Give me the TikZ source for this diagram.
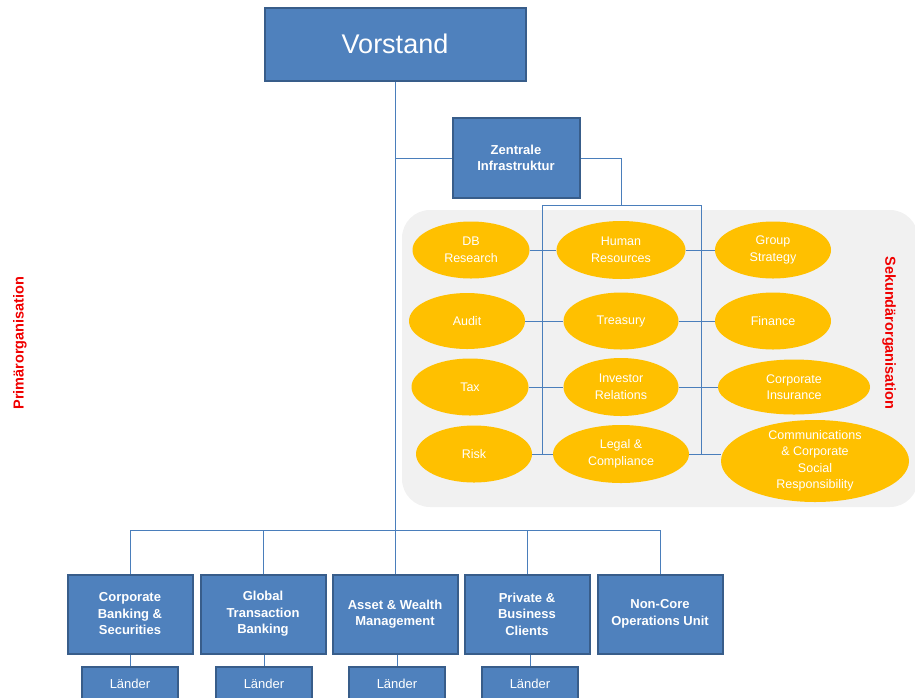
\documentclass[tikz,border=0pt]{standalone}
\usepackage{fontspec}
\setmainfont{Liberation Sans}
\usetikzlibrary{shapes.geometric}

\definecolor{boxblue}{HTML}{4F81BD}
\definecolor{boxedge}{HTML}{385D8A}
\definecolor{ovalgold}{HTML}{FFC000}
\definecolor{linkblue}{HTML}{4A7EBB}
\definecolor{panelgray}{HTML}{F1F1F1}
\definecolor{labelred}{HTML}{F00000}

\begin{document}
\begin{tikzpicture}[x=1pt,y=-1pt,
    unit/.style={draw=boxedge, line width=2pt, fill=boxblue, text=white, align=center,
      inner sep=0pt, font=\bfseries\fontsize{13}{16.5}\selectfont},
    division/.style={unit, minimum width=125pt, minimum height=79pt},
    laender/.style={unit, font=\fontsize{13}{16}\selectfont, minimum width=96pt, minimum height=34pt},
    oval/.style={ellipse, fill=ovalgold, text=white, align=center, inner sep=0pt,
      font=\fontsize{12.5}{16.5}\selectfont},
    link/.style={draw=linkblue, line width=0.9pt},
    sidelabel/.style={text=labelred, font=\bfseries\fontsize{14.5}{16}\selectfont}]
  \useasboundingbox (0,0) rectangle (915,697);
  \clip (0,0) rectangle (915,697);

  % panel of the secondary organisation
  \fill[panelgray, rounded corners=28pt] (402,210) rectangle (918,507);

  \node[unit, minimum width=261pt, minimum height=73pt, font=\fontsize{27}{30}\selectfont]
    (vorstand) at (395,44) {Vorstand};
  \node[unit, minimum width=127pt, minimum height=80pt] (zentral) at (516,158) {Zentrale\\Infrastruktur};

  \coordinate (zbus) at (621,205);
  \coordinate (lbus) at (542,205);
  \coordinate (rbus) at (701,205);
  \coordinate (pbus) at (395,530);

  \node[oval, minimum width=117pt, minimum height=57pt] (dbr) at (471,250) {DB\\Research};
  \node[oval, minimum width=116pt, minimum height=56pt] (audit) at (467,321) {Audit};
  \node[oval, minimum width=117pt, minimum height=57pt] (tax) at (470,387) {Tax};
  \node[oval, minimum width=116pt, minimum height=57pt] (risk) at (474,454) {Risk};

  \node[oval, minimum width=129pt, minimum height=58pt] (hr) at (621,250) {Human\\Resources};
  \node[oval, minimum width=115pt, minimum height=57pt] (treasury) at (621,321) {Treasury};
  \node[oval, minimum width=115pt, minimum height=58pt] (ir) at (621,387) {Investor\\Relations};
  \node[oval, minimum width=136pt, minimum height=58pt] (legal) at (621,454) {Legal \&\\Compliance};

  \node[oval, minimum width=116pt, minimum height=57pt] (strategy) at (773,250) {Group\\Strategy};
  \node[oval, minimum width=116pt, minimum height=57pt] (finance) at (773,321) {Finance};
  \node[oval, minimum width=152pt, minimum height=55pt] (insurance) at (794,387) {Corporate\\Insurance};
  \node[oval, minimum width=188pt, minimum height=82pt, inner ysep=-8pt] (comms) at (815,461)
    {Communications\\\& Corporate\\Social\\Responsibility};

  \node[division] (cbs) at (130,614) {Corporate\\Banking \&\\Securities};
  \node[division] (gtb) at (263,614) {Global\\Transaction\\Banking};
  \node[division] (awm) at (395,614) {Asset \& Wealth\\Management};
  \node[division] (pbc) at (527,614) {Private \&\\Business\\Clients};
  \node[division] (ncou) at (660,614) {Non-Core\\Operations Unit};

  \node[laender] (l-cbs) at (130,684) {Länder};
  \node[laender] (l-gtb) at (264,684) {Länder};
  \node[laender] (l-awm) at (397,684) {Länder};
  \node[laender] (l-pbc) at (530,684) {Länder};

  \node[sidelabel, rotate=90] (prim) at (20,343) {Primärorganisation};
  \node[sidelabel, rotate=-90] (sek) at (889,333) {Sekundärorganisation};

  % connectors
  \draw[link] (vorstand.south) -- (pbus);
  \draw[link] (vorstand.south |- zentral.west) -- (zentral.west);
  \draw[link] (zentral.east) -| (zbus);
  \draw[link] (lbus) -- (rbus);
  \draw[link] (lbus) -- (lbus |- risk.east);
  \draw[link] (rbus) -- (rbus |- legal.east);
  \draw[link] (dbr.east) -- (hr.west);
  \draw[link] (audit.east) -- (treasury.west);
  \draw[link] (tax.east) -- (ir.west);
  \draw[link] (risk.east) -- (legal.west);
  \draw[link] (hr.east) -- (strategy.west);
  \draw[link] (treasury.east) -- (finance.west);
  \draw[link] (ir.east) -- (insurance.west);
  \draw[link] (legal.east) -- (legal.east -| comms.west);

  \draw[link] (cbs.north |- pbus) -- (ncou.north |- pbus);
  \draw[link] (cbs.north |- pbus) -- (cbs.north);
  \draw[link] (gtb.north |- pbus) -- (gtb.north);
  \draw[link] (pbus) -- (awm.north);
  \draw[link] (pbc.north |- pbus) -- (pbc.north);
  \draw[link] (ncou.north |- pbus) -- (ncou.north);

  \draw[link] (l-cbs.north) -- (l-cbs.north |- cbs.south);
  \draw[link] (l-gtb.north) -- (l-gtb.north |- gtb.south);
  \draw[link] (l-awm.north) -- (l-awm.north |- awm.south);
  \draw[link] (l-pbc.north) -- (l-pbc.north |- pbc.south);
\end{tikzpicture}
\end{document}
